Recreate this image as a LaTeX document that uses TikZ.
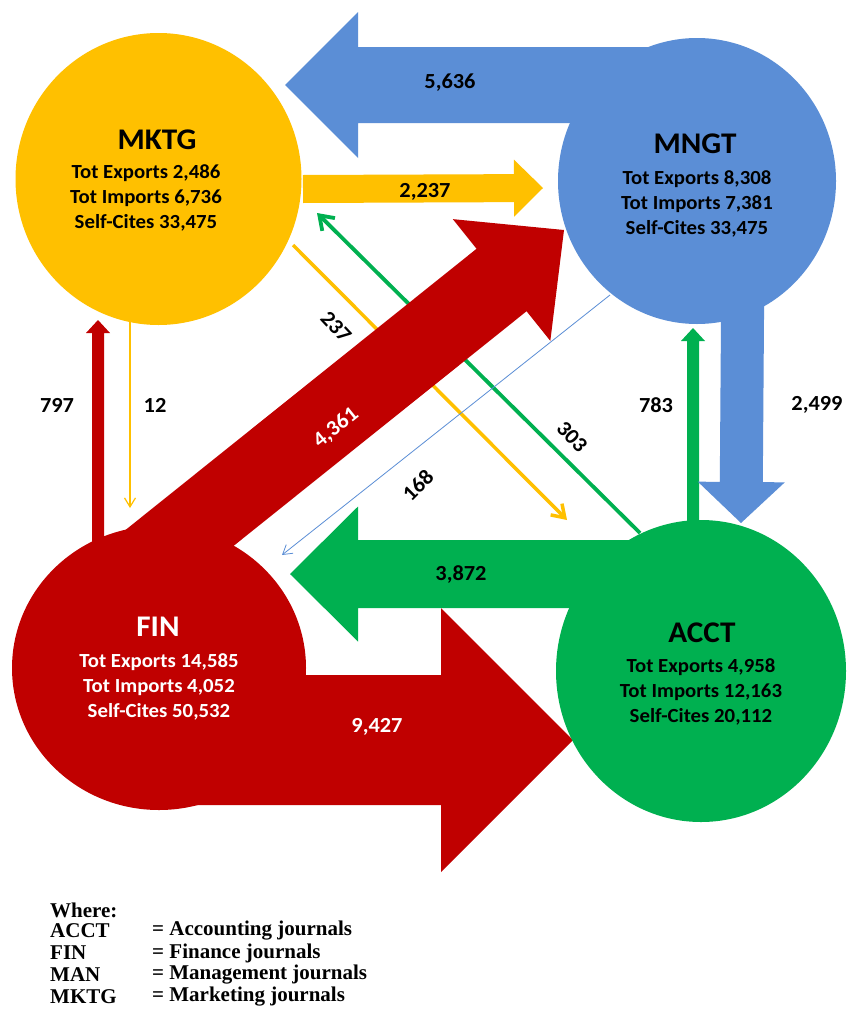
\documentclass[tikz,border=0pt]{standalone}
\usepackage{fontspec}
\newfontfamily\cfont{Carlito}[FakeStretch=1.04]
\newfontfamily\lfont{Liberation Serif}
\usetikzlibrary{calc,arrows.meta,shapes.geometric}
\definecolor{cy}{HTML}{FFC000}
\definecolor{cb}{HTML}{5B8ED6}
\definecolor{cr}{HTML}{C00000}
\definecolor{cg}{HTML}{00B050}
% color, tail, tip, body half width, head half width, head length
\newcommand\fatarrow[6]{%
  \coordinate (H-#2) at ($(#3)!#6!(#2)$);
  \fill[#1] ($(#2)!#4!90:(#3)$) -- ($(H-#2)!#4!90:(#3)$) -- ($(H-#2)!#5!90:(#3)$)
    -- (#3) -- ($(H-#2)!#5!-90:(#3)$) -- ($(H-#2)!#4!-90:(#3)$) -- ($(#2)!#4!-90:(#3)$) -- cycle;}
\begin{document}
\begin{tikzpicture}[x=1pt,y=-1pt,
  blob/.style={ellipse,inner sep=0pt,draw=none},
  ttl/.style={font=\cfont\bfseries\fontsize{30}{32}\selectfont,inner sep=0pt},
  info/.style={font=\cfont\bfseries\fontsize{20}{25}\selectfont,align=center,inner sep=0pt},
  lab/.style={font=\cfont\bfseries\fontsize{21.5}{23}\selectfont,inner sep=0pt},
  leg/.style={font=\lfont\bfseries\fontsize{21}{22}\selectfont,inner sep=0pt,anchor=west},
  thin/.style={-{Straight Barb[length=9pt,width=11pt]}},
]
\fill[white] (0,0) rectangle (847,1009);
\useasboundingbox (0,0) rectangle (847,1009);

% anchor coordinates
\coordinate (a12s) at (130,318);
\coordinate (a12e) at (130,508);
\coordinate (a237s) at (293,245);
\coordinate (a237e) at (567,520);
\coordinate (a303s) at (640,533);
\coordinate (a303e) at (317,213);
\coordinate (a168s) at (610,295);
\coordinate (a168e) at (282,555);

\coordinate (t5636) at (700,85);   \coordinate (h5636) at (285,85);
\coordinate (t2237) at (303,189);  \coordinate (h2237) at (543,188);
\coordinate (t4361) at (127,580);  \coordinate (h4361) at (564,230);
\coordinate (t797) at (98,560);    \coordinate (h797) at (98,320);
\coordinate (t783) at (693,560);   \coordinate (h783) at (693,328);
\coordinate (t2499) at (743,250);  \coordinate (h2499) at (741,523);
\coordinate (t3872) at (720,574);  \coordinate (h3872) at (290,574);
\coordinate (t9427) at (160,740);  \coordinate (h9427) at (573,740);

% thin connectors
\draw[cy,line width=1.2pt,thin] (a12s) -- (a12e);
\draw[cy,line width=3.5pt,-{Straight Barb[length=12pt,width=16pt]}] (a237s) -- (a237e);
\draw[cg,line width=3.8pt,-{Straight Barb[length=13pt,width=18pt]}] (a303s) -- (a303e);
\draw[cb,line width=0.8pt,thin] (a168s) -- (a168e);

% block arrows
\fatarrow{cb}{t5636}{h5636}{38pt}{73pt}{73pt}
\fatarrow{cy}{t2237}{h2237}{14pt}{28.5pt}{29pt}
\fatarrow{cr}{t4361}{h4361}{40pt}{78pt}{80pt}
\fatarrow{cr}{t797}{h797}{6pt}{12pt}{13pt}
\fatarrow{cg}{t783}{h783}{6pt}{12pt}{13pt}
\fatarrow{cb}{t2499}{h2499}{21.5pt}{43.5pt}{41pt}
\fatarrow{cg}{t3872}{h3872}{34pt}{67.5pt}{68pt}
\fatarrow{cr}{t9427}{h9427}{65pt}{132pt}{132pt}

% circles
\node[blob,fill=cy,minimum width=286pt,minimum height=292pt] (mktg) at (158.5,179) {};
\node[blob,fill=cb,minimum width=278pt,minimum height=286pt] (mngt) at (697,181) {};
\node[blob,fill=cr,minimum width=294pt,minimum height=284pt] (fin) at (159,668) {};
\node[blob,fill=cg,minimum width=290pt,minimum height=302pt] (acct) at (701,671) {};

% circle texts
\node[ttl] (mktgT) at (157,140) {MKTG};
\node[info] (mktgI) at (146,198) {Tot Exports 2,486\\Tot Imports 6,736\\Self-Cites 33,475};
\node[ttl] (mngtT) at (695,144) {MNGT};
\node[info] (mngtI) at (697,204) {Tot Exports 8,308\\Tot Imports 7,381\\Self-Cites 33,475};
\node[ttl,white] (finT) at (158,627) {FIN};
\node[info,white] (finI) at (159,687) {Tot Exports 14,585\\Tot Imports 4,052\\Self-Cites 50,532};
\node[ttl] (acctT) at (702,633) {ACCT};
\node[info] (acctI) at (701,692) {Tot Exports 4,958\\Tot Imports 12,163\\Self-Cites 20,112};

% arrow labels
\node[lab] (l5636) at (450,83) {5,636};
\node[lab] (l2237) at (425,192) {2,237};
\node[lab,rotate=-47] (l237) at (336,327) {237};
\node[lab,white,rotate=39] (l4361) at (336,428) {4,361};
\node[lab,rotate=-47] (l303) at (572,437) {303};
\node[lab,rotate=45] (l168) at (418,485) {168};
\node[lab] (l797) at (57,405) {797};
\node[lab] (l12) at (155,405) {12};
\node[lab] (l783) at (656,405) {783};
\node[lab] (l2499) at (817,405) {2,499};
\node[lab] (l3872) at (461,575) {3,872};
\node[lab,white] (l9427) at (377,727) {9,427};

% legend
\node[leg] (lgw) at (50,910) {Where:};
\node[leg] (lg1a) at (50,931) {ACCT};
\node[leg] (lg1b) at (152,931) {= Accounting journals};
\node[leg] (lg2a) at (50,953) {FIN};
\node[leg] (lg2b) at (152,953) {= Finance journals};
\node[leg] (lg3a) at (50,975) {MAN};
\node[leg] (lg3b) at (152,975) {= Management journals};
\node[leg] (lg4a) at (50,997) {MKTG};
\node[leg] (lg4b) at (152,997) {= Marketing journals};
\end{tikzpicture}
\end{document}
